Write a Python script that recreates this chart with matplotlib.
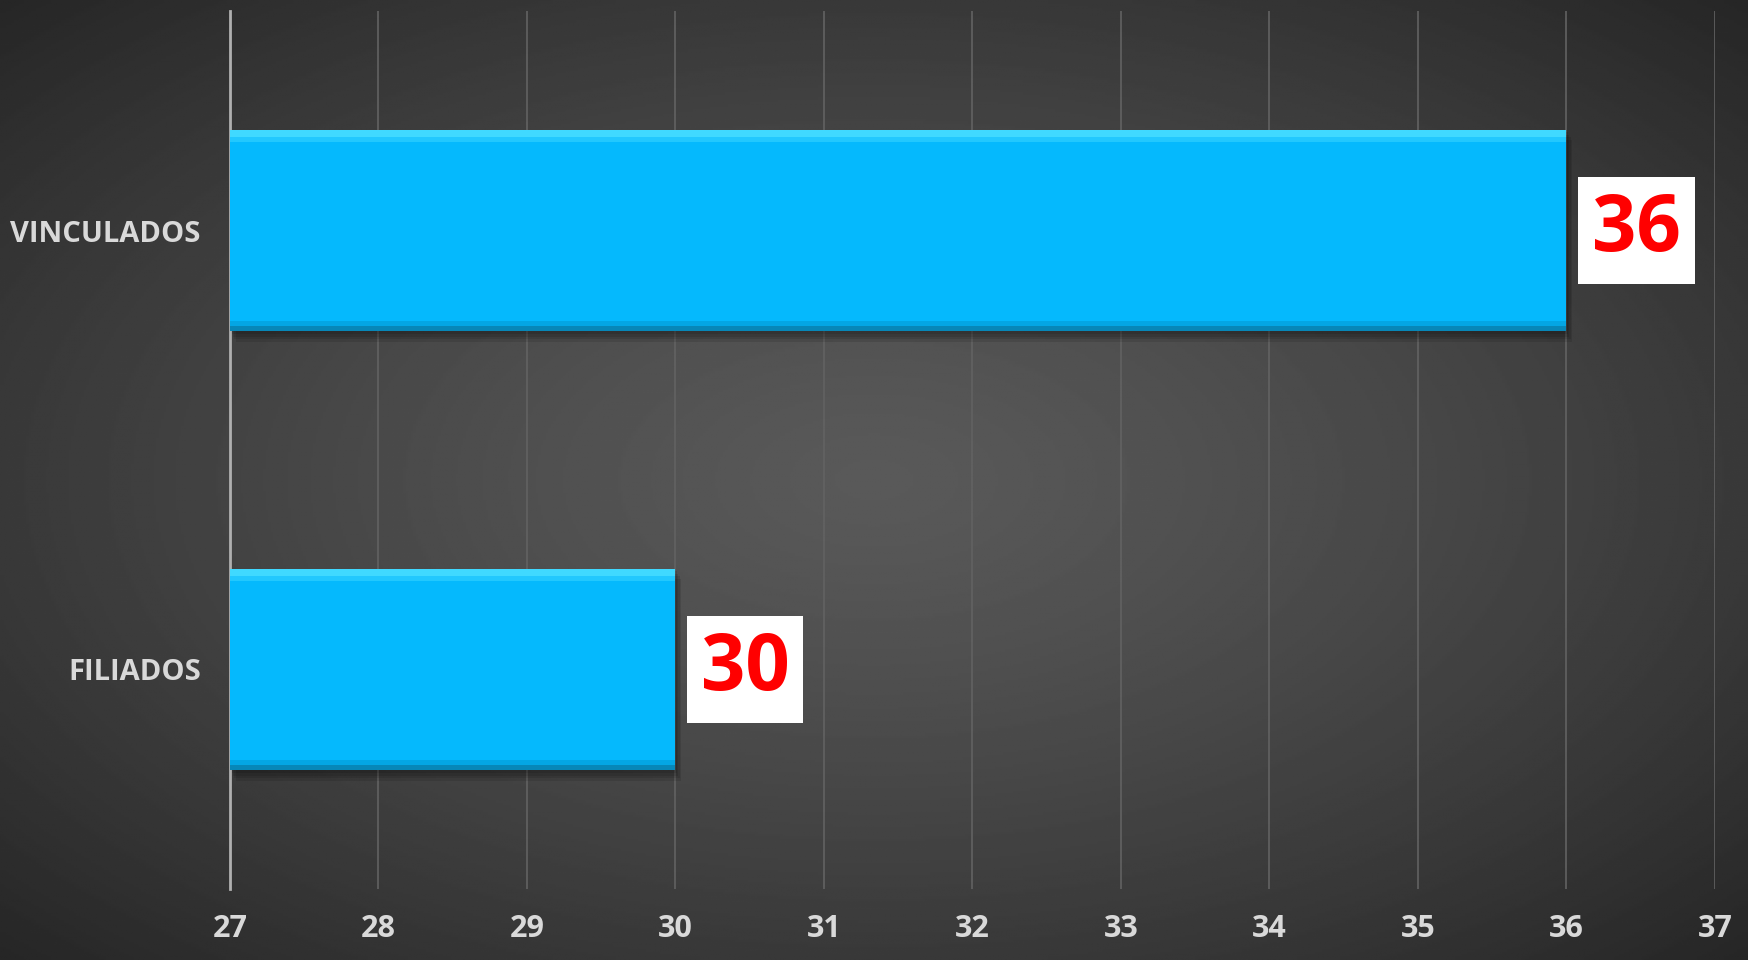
import numpy as np
import matplotlib
matplotlib.use("Agg")
import matplotlib.pyplot as plt

# datos
categorias = ["FILIADOS", "VINCULADOS"]
valores = [30, 36]
ticks_x = list(range(27, 38))

plt.rcParams['font.family'] = ['Open Sans', 'DejaVu Sans']

fig = plt.figure(figsize=(17.48, 9.6), dpi=100)

# fondo con degradado radial
bg = fig.add_axes([0, 0, 1, 1], zorder=0)
yy, xx = np.mgrid[0:1:400j, 0:1:700j]
r = np.sqrt(((xx - 0.5) / 0.75) ** 2 + ((yy - 0.5) / 0.75) ** 2)
r = np.clip(r / 0.94, 0, 1)
gris = 0.35 - 0.20 * r ** 1.3
bg.imshow(gris, cmap='gray', vmin=0, vmax=1, aspect='auto', extent=[0, 1, 0, 1])
bg.axis('off')

ax = fig.add_axes([230 / 1748, 1 - 889 / 960, (1715 - 230) / 1748, 878 / 960], zorder=1)
ax.patch.set_alpha(0)

y = np.arange(len(categorias))
izq = ticks_x[0]
alto = 0.46
anchos = [v - izq for v in valores]

# sombra suave
for k in range(4):
    ax.barh(y - 0.006 * (k + 1), anchos, left=izq + 0.01 * (k + 1), height=alto,
            color='black', alpha=0.10, zorder=2)
ax.barh(y, anchos, left=izq, height=alto, color='#05b9fd', zorder=3)
# bisel: borde superior claro, borde inferior oscuro
ax.barh(y + alto / 2 - 0.008, anchos, left=izq, height=0.016, color='#40d9ff', zorder=4)
ax.barh(y + alto / 2 - 0.022, anchos, left=izq, height=0.012, color='#22c8fe', zorder=4)
ax.barh(y - alto / 2 + 0.006, anchos, left=izq, height=0.012, color='#0787b8', zorder=4)
ax.barh(y - alto / 2 + 0.018, anchos, left=izq, height=0.012, color='#04a6e4', zorder=4)

for yi, v in zip(y, valores):
    ax.text(v + 0.17, yi, str(v), color='#ff0000', fontsize=56, fontweight='bold',
            ha='left', va='center', zorder=5,
            bbox=dict(boxstyle='square,pad=0.18', facecolor='white', edgecolor='none'))

ax.set_xlim(ticks_x[0], ticks_x[-1])
ax.set_ylim(-0.5, 1.5)
ax.set_xticks(ticks_x)
ax.set_yticks(y)
ax.set_yticklabels(categorias)
ax.xaxis.grid(True, color='#626262', linewidth=1.2, zorder=1)
ax.set_axisbelow(True)
for s in ['top', 'right', 'bottom']:
    ax.spines[s].set_visible(False)
ax.spines['left'].set_color('#b0b0b0')
ax.spines['left'].set_linewidth(2)
ax.tick_params(axis='both', length=0, colors='#d9d9d9')
ax.tick_params(axis='x', pad=18, labelsize=22)
ax.tick_params(axis='y', pad=21, labelsize=21)
for lbl in ax.get_xticklabels() + ax.get_yticklabels():
    lbl.set_fontweight('bold')

fig.savefig('out.png', dpi=100)
